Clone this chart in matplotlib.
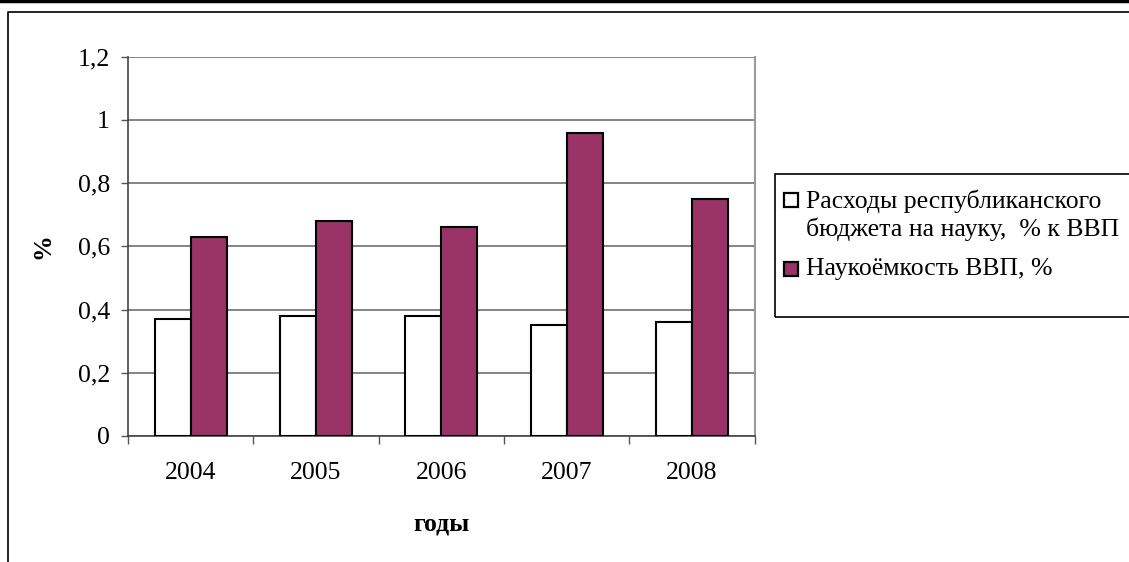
import numpy as np
import matplotlib.pyplot as plt
from matplotlib.patches import Rectangle
from matplotlib.lines import Line2D

years = ["2004", "2005", "2006", "2007", "2008"]
budget = [0.37, 0.38, 0.38, 0.35, 0.36]
intensity = [0.63, 0.68, 0.66, 0.96, 0.75]
yticks = [0, 0.2, 0.4, 0.6, 0.8, 1.0, 1.2]
ytick_labels = ["0", "0,2", "0,4", "0,6", "0,8", "1", "1,2"]
labels = ["Расходы республиканского\nбюджета на науку,  % к ВВП", "Наукоёмкость ВВП, %"]

W, H = 1129, 562
plt.rcParams["font.family"] = ["Liberation Serif", "DejaVu Serif"]
fs = 18.5

fig = plt.figure(figsize=(W / 100, H / 100), dpi=100)
ax = fig.add_axes([128 / W, 1 - 436 / H, 626.5 / W, 379.3 / H])

x = np.arange(len(years))
bw = 0.287
ax.bar(x - bw / 2, budget, bw, color="white", edgecolor="black", linewidth=1.5, zorder=3)
ax.bar(x + bw / 2, intensity, bw, color="#993366", edgecolor="black", linewidth=1.5, zorder=3)

ax.set_xlim(-0.5, len(years) - 0.5)
ax.set_ylim(0, 1.2)
ax.set_yticks(yticks)
ax.set_yticklabels(ytick_labels)
ax.yaxis.grid(True, color="#6e6e6e", linewidth=1.2, zorder=0)

# ticks between categories, labels in the middle
ax.set_xticks(np.arange(len(years) + 1) - 0.5)
ax.set_xticklabels([])
ax.set_xticks(x, minor=True)
ax.set_xticklabels(years, minor=True)
ax.tick_params(axis="x", which="major", direction="out", length=6, width=1, color="#555555")
ax.tick_params(axis="x", which="minor", length=0, pad=19, labelsize=fs)
ax.tick_params(axis="y", direction="out", length=5, width=1, color="#555555", pad=8, labelsize=fs)

ax.spines["top"].set_visible(False)
ax.spines["right"].set_color("#9a9a9a")
ax.spines["right"].set_linewidth(1.5)
ax.spines["left"].set_color("#444444")
ax.spines["bottom"].set_color("#444444")
ax.spines["left"].set_linewidth(1.2)
ax.spines["bottom"].set_linewidth(1.2)

ax.set_xlabel("годы", fontsize=fs, fontweight="bold")
ax.xaxis.set_label_coords(0.5, -0.232)
ax.xaxis.label.set_verticalalignment("center")
ax.set_ylabel("%", fontsize=fs, fontweight="bold")
ax.yaxis.set_label_coords(-0.136, 0.5)
ax.yaxis.label.set_verticalalignment("center")


def px(xp, yp):
    return xp / W, 1 - yp / H


# legend box
lx, ly = px(775, 317)
fig.patches.append(Rectangle((lx, ly), (W + 20 - 775) / W, (317 - 174) / H,
                             transform=fig.transFigure, facecolor="none",
                             edgecolor="black", linewidth=1.2))
colors = ["white", "#993366"]
rows = [200, 269]
for lab, col, yy in zip(labels, colors, rows):
    sx, sy = px(784, yy + 7)
    fig.patches.append(Rectangle((sx, sy), 14 / W, 14 / H, transform=fig.transFigure,
                                 facecolor=col, edgecolor="black", linewidth=1.6))
    tx, ty = px(806, yy - 11)
    fig.text(tx, ty, lab, fontsize=fs, va="top", ha="left", linespacing=1.27)

# outer frame
fig.lines.append(Line2D([0, 1], [1 - 1 / H, 1 - 1 / H], transform=fig.transFigure,
                        color="black", linewidth=2.5))
fig.lines.append(Line2D([8 / W, 8 / W, 1], [0, 1 - 12 / H, 1 - 12 / H],
                        transform=fig.transFigure, color="black", linewidth=1.2))

fig.savefig("out.png", dpi=100)
